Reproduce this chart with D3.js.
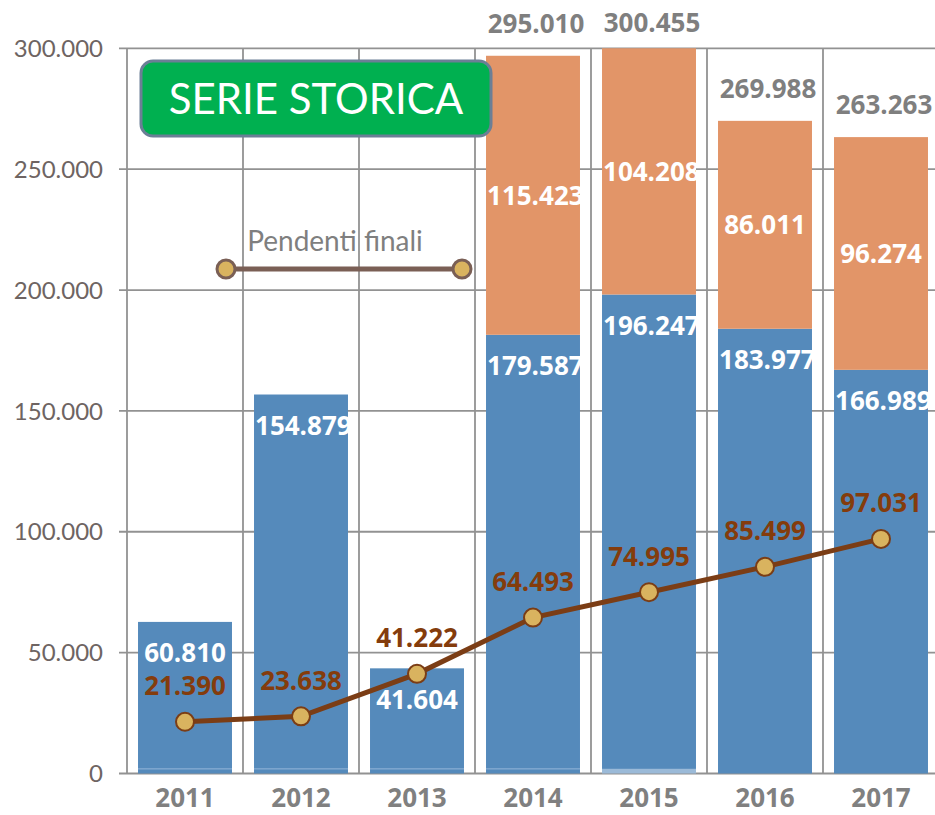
<!DOCTYPE html>
<html>
<head>
<meta charset="utf-8">
<script src="https://cdn.jsdelivr.net/npm/d3@7"></script>
<style>
  html, body { margin: 0; padding: 0; background: #fff; }
  svg { display: block; }
</style>
</head>
<body>
<div id="chart"></div>
<script>
// Dati
const anni = ["2011", "2012", "2013", "2014", "2015", "2016", "2017"];
const base = [1900, 1900, 1900, 1900, 1900, 0, 0];          // sottile fascia alla base
const definiti = [60810, 154879, 41604, 179587, 196247, 183977, 166989];
const altri = [0, 0, 0, 115423, 104208, 86011, 96274];
const totali = [null, null, null, 295010, 300455, 269988, 263263];
const pendenti = [21390, 23638, 41222, 64493, 74995, 85499, 97031];
const yTicks = [0, 50000, 100000, 150000, 200000, 250000, 300000];

const width = 935, height = 815;
const fmt = v => d3.format(",")(v).replace(/,/g, ".");

const svg = d3.select("#chart").append("svg")
    .attr("width", width).attr("height", height);

const x = d3.scaleBand()
    .domain(anni)
    .range([127, 939])
    .paddingInner(0.19)
    .paddingOuter(0.095);

const y = d3.scaleLinear()
    .domain([0, 300000])
    .range([773.5, 48.3]);

const grid = "#929292";

// griglia orizzontale
svg.append("g")
    .selectAll("line")
    .data(yTicks)
    .join("line")
    .attr("x1", 119).attr("x2", width)
    .attr("y1", d => y(d)).attr("y2", d => y(d))
    .attr("stroke", grid).attr("stroke-width", 1.8);

// griglia verticale (bordi delle categorie)
svg.append("g")
    .selectAll("line")
    .data(d3.range(anni.length + 1))
    .join("line")
    .attr("x1", i => 127 + i * x.step()).attr("x2", i => 127 + i * x.step())
    .attr("y1", y(300000)).attr("y2", y(0))
    .attr("stroke", grid).attr("stroke-width", 1.8);

// etichette asse y
svg.append("g")
    .selectAll("text")
    .data(yTicks)
    .join("text")
    .attr("x", 103)
    .attr("y", d => y(d))
    .attr("dy", "0.36em")
    .attr("text-anchor", "end")
    .style("font-family", "Lato, sans-serif")
    .style("font-size", "24px")
    .style("fill", "#6e6462")
    .text(d => fmt(d));

// etichette asse x
svg.append("g")
    .selectAll("text")
    .data(anni)
    .join("text")
    .attr("x", d => x(d) + x.bandwidth() / 2)
    .attr("y", 807)
    .attr("text-anchor", "middle")
    .style("font-family", "'Open Sans', sans-serif")
    .style("font-weight", "bold")
    .style("font-size", "26px")
    .style("fill", "#808080")
    .text(d => d);

// barre impilate
const rows = anni.map((a, i) => ({ anno: a, base: base[i], definiti: definiti[i], altri: altri[i], i }));
const stack = d3.stack().keys(["base", "definiti", "altri"])(rows);
const colori = { base: "#558abb", definiti: "#558abb", altri: "#e29568" };

const defs = svg.append("defs");
defs.append("clipPath").attr("id", "plot")
    .append("rect")
    .attr("x", 0).attr("y", y(300000))
    .attr("width", width).attr("height", y(0) - y(300000) + 1);
anni.forEach((a, i) => {
    defs.append("clipPath").attr("id", "clip" + i)
        .append("rect")
        .attr("x", x(a)).attr("y", 0)
        .attr("width", x.bandwidth()).attr("height", height);
});

const bars = svg.append("g").attr("clip-path", "url(#plot)");
stack.forEach(s => {
    bars.append("g")
        .selectAll("rect")
        .data(s.filter(d => d[1] > d[0]))
        .join("rect")
        .attr("x", d => x(d.data.anno))
        .attr("width", x.bandwidth())
        .attr("y", d => y(d[1]))
        .attr("height", d => y(d[0]) - y(d[1]))
        .attr("fill", d => (s.key === "base" && d.data.anno === "2015") ? "#9bbad8" : colori[s.key]);
});

// linea chiara sopra la fascia di base
bars.append("g")
    .selectAll("line")
    .data(stack[0].filter(d => d[1] > 0 && d.data.anno !== "2015"))
    .join("line")
    .attr("x1", d => x(d.data.anno)).attr("x2", d => x(d.data.anno) + x.bandwidth())
    .attr("y1", d => y(d[1])).attr("y2", d => y(d[1]))
    .attr("stroke", "#8fb2d6").attr("stroke-width", 1);

// etichette dentro le barre (centrate, altrimenti allineate a sinistra e tagliate)
function barLabel(g, a, i, text, cy) {
    const t = g.append("text")
        .attr("clip-path", `url(#clip${i})`)
        .attr("y", cy)
        .attr("dy", "0.36em")
        .style("font-family", "'Open Sans', sans-serif")
        .style("font-weight", "bold")
        .style("font-size", "26px")
        .style("fill", "#fff")
        .text(text);
    const w = t.node().getComputedTextLength();
    const cx = x(a) + x.bandwidth() / 2;
    t.attr("x", Math.max(x(a) + 1, cx - w / 2));
}

const lbl = svg.append("g");
stack[1].forEach((d, i) => {
    barLabel(lbl, anni[i], i, fmt(definiti[i]), y(d[1]) + 31);
});
stack[2].forEach((d, i) => {
    if (altri[i] > 0) barLabel(lbl, anni[i], i, fmt(altri[i]), (y(d[0]) + Math.max(y(d[1]), y(300000))) / 2);
});

// totali sopra le barre
svg.append("g")
    .selectAll("text")
    .data(stack[2].filter((d, i) => totali[i] !== null))
    .join("text")
    .attr("x", d => x(d.data.anno) + x.bandwidth() / 2 + 3)
    .attr("y", d => Math.max(23, y(d[1]) - 32))
    .attr("dy", "0.36em")
    .attr("text-anchor", "middle")
    .style("font-family", "'Open Sans', sans-serif")
    .style("font-weight", "bold")
    .style("font-size", "26px")
    .style("fill", "#7f7f7f")
    .text(d => fmt(totali[d.data.i]));

// linea pendenti finali
const lineCol = "#7b3d15";
const cx = a => x(a) + x.bandwidth() / 2;
svg.append("path")
    .datum(pendenti)
    .attr("fill", "none")
    .attr("stroke", lineCol)
    .attr("stroke-width", 5)
    .attr("d", d3.line().x((d, i) => cx(anni[i])).y(d => y(d)));

svg.append("g")
    .selectAll("circle")
    .data(pendenti)
    .join("circle")
    .attr("cx", (d, i) => cx(anni[i]))
    .attr("cy", d => y(d))
    .attr("r", 9)
    .attr("fill", "#d9b35f")
    .attr("stroke", lineCol)
    .attr("stroke-width", 2);

svg.append("g")
    .selectAll("text")
    .data(pendenti)
    .join("text")
    .attr("x", (d, i) => cx(anni[i]))
    .attr("y", d => y(d) - 36)
    .attr("dy", "0.36em")
    .attr("text-anchor", "middle")
    .style("font-family", "'Open Sans', sans-serif")
    .style("font-weight", "bold")
    .style("font-size", "26px")
    .style("fill", "#843c0c")
    .text(d => fmt(d));

// legenda
const leg = svg.append("g");
leg.append("line")
    .attr("x1", 226).attr("x2", 462).attr("y1", 269).attr("y2", 269)
    .attr("stroke", "#7a5f55").attr("stroke-width", 5);
leg.selectAll("circle")
    .data([226, 462])
    .join("circle")
    .attr("cx", d => d).attr("cy", 269).attr("r", 9)
    .attr("fill", "#d9b35f").attr("stroke", "#7a5f55").attr("stroke-width", 3);
leg.append("text")
    .attr("x", 335).attr("y", 251)
    .attr("text-anchor", "middle")
    .style("font-family", "Lato, sans-serif")
    .style("font-size", "28px")
    .style("fill", "#7f7f7f")
    .text("Pendenti finali");

// riquadro titolo
const tb = svg.append("g");
tb.append("rect")
    .attr("x", 141).attr("y", 61).attr("width", 350).attr("height", 75)
    .attr("rx", 12)
    .attr("fill", "#00b050")
    .attr("stroke", "#6b7f96").attr("stroke-width", 3);
tb.append("text")
    .attr("x", 316).attr("y", 99)
    .attr("dy", "0.36em")
    .attr("text-anchor", "middle")
    .style("font-family", "Lato, sans-serif")
    .style("font-size", "42px")
    .style("fill", "#fff")
    .text("SERIE STORICA");
</script>
</body>
</html>
